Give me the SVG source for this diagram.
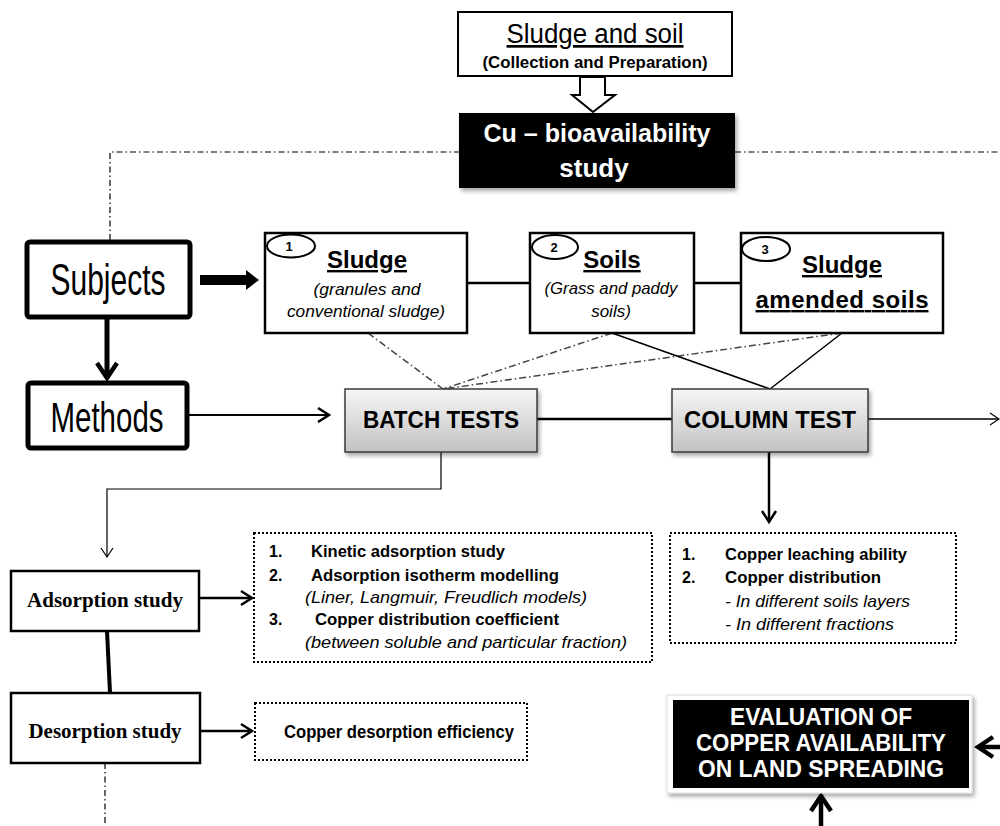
<svg xmlns="http://www.w3.org/2000/svg" width="1000" height="826" viewBox="0 0 1000 826">
<style>
.box{fill:#fff;stroke:#000;stroke-width:2.5}
.tbox{fill:#fff;stroke:#000;stroke-width:5}
.dot{fill:#fff;stroke:#000;stroke-width:2;stroke-dasharray:2 2}
.gbox{fill:url(#g);stroke:#3a3a3a;stroke-width:1.5}
.s{font-family:"Liberation Sans",Arial,sans-serif}
.n{font-family:"Liberation Sans Narrow","Liberation Sans",Arial,sans-serif}
.r{font-family:"Liberation Serif","Times New Roman",serif}
.b{font-weight:bold}
.i{font-style:italic}
.m{text-anchor:middle}
.u{text-decoration:underline}
.w{fill:#fff}
.ln{fill:none;stroke:#000}
.dd{fill:none;stroke:#444;stroke-width:1.5;stroke-dasharray:7 3 1.5 3}
</style>
<defs>
<linearGradient id="g" x1="0" y1="0" x2="0" y2="1">
<stop offset="0" stop-color="#f6f6f6"/>
<stop offset="1" stop-color="#c2c2c2"/>
</linearGradient>
<filter id="sh" x="-10%" y="-10%" width="125%" height="130%">
<feDropShadow dx="2" dy="3" stdDeviation="2" flood-color="#000" flood-opacity="0.35"/>
</filter>
<marker id="mA" markerUnits="userSpaceOnUse" viewBox="-20 -14 24 28" refX="0" refY="0" markerWidth="24" markerHeight="28" orient="auto">
<path d="M-15,-10 L0,0 L-15,10" fill="none" stroke="#000" stroke-width="4.5"/>
</marker>
<marker id="mB" markerUnits="userSpaceOnUse" viewBox="-16 -10 20 20" refX="0" refY="0" markerWidth="20" markerHeight="20" orient="auto">
<path d="M-11,-7 L0,0 L-11,7" fill="none" stroke="#000" stroke-width="2.5"/>
</marker>
<marker id="mC" markerUnits="userSpaceOnUse" viewBox="-14 -9 16 18" refX="0" refY="0" markerWidth="16" markerHeight="18" orient="auto">
<path d="M-9,-6 L0,0 L-9,6" fill="none" stroke="#000" stroke-width="1.2"/>
</marker>
</defs>
<rect width="1000" height="826" fill="#fff"/>

<g id="connectors">
<path class="ln" d="M110,240 V152 H459 M735,152 H1000 M105,763 V826" stroke-width="1.2" stroke-dasharray="6 3 1.5 3"/>
<polygon points="580,77 605,77 605,95 615,95 593,112 572,95 580,95" fill="#fff" stroke="#000" stroke-width="2"/>
<polygon points="200,275 246,275 246,270 259,280 246,290 246,285 200,285" fill="#000"/>
<path class="ln" d="M107,318 V378" stroke-width="5" marker-end="url(#mA)"/>
<path class="ln" d="M467,283 H530 M694,283 H741" stroke-width="2.5"/>
<path class="ln" d="M187,415 H329" stroke-width="2" marker-end="url(#mB)"/>
<path class="dd" d="M368,333 L443,389 M612,333 L443,389 M842,333 L443,389"/>
<path class="ln" d="M612,333 L770,389 L842,333" stroke="#222" stroke-width="1.5"/>
<path class="ln" d="M537,419 H672" stroke-width="2.5"/>
<path class="ln" d="M868,419 H999" stroke-width="1.3" marker-end="url(#mC)"/>
<path class="ln" d="M441,452 V489 H107 V557" stroke-width="1.2" marker-end="url(#mC)"/>
<path class="ln" d="M769,452 V522" stroke-width="2.5" marker-end="url(#mB)"/>
<path class="ln" d="M199,598 H252" stroke-width="2.5" marker-end="url(#mB)"/>
<path class="ln" d="M200,731 H252" stroke-width="2.5" marker-end="url(#mB)"/>
<path class="ln" d="M107,631 L110,693" stroke-width="4"/>
<path class="ln" d="M1000,747 H978" stroke-width="4.5" marker-end="url(#mA)"/>
<path class="ln" d="M821,826 V796" stroke-width="4.5" marker-end="url(#mA)"/>
</g>

<g id="sludge-soil">
<rect x="458" y="12" width="274" height="64" fill="#fff" stroke="#000" stroke-width="2"/>
<text class="s m u" x="595" y="43" font-size="27" textLength="177" lengthAdjust="spacingAndGlyphs">Sludge and soil</text>
<text class="s b m" x="595" y="68" font-size="16" textLength="225" lengthAdjust="spacingAndGlyphs">(Collection and Preparation)</text>
</g>

<g id="cu-study">
<rect x="459" y="113" width="276" height="75" fill="#000" filter="url(#sh)"/>
<text class="s b m w" x="597" y="142" font-size="26" textLength="227" lengthAdjust="spacingAndGlyphs">Cu – bioavailability</text>
<text class="s b m w" x="594" y="177" font-size="26">study</text>
</g>

<g id="subjects">
<rect class="tbox" x="27" y="242" width="163" height="75" rx="3"/>
<text class="n m" x="108" y="295" font-size="44" textLength="115" lengthAdjust="spacingAndGlyphs">Subjects</text>
</g>

<g id="methods">
<rect class="tbox" x="28" y="383" width="159" height="65" rx="3"/>
<text class="n m" x="107" y="432" font-size="42" textLength="113" lengthAdjust="spacingAndGlyphs">Methods</text>
</g>

<g id="sludge">
<rect class="box" x="265" y="233" width="202" height="100"/>
<ellipse cx="291" cy="246" rx="24" ry="11.5" fill="#fff" stroke="#000" stroke-width="2"/>
<text class="s b m" x="289" y="251" font-size="13">1</text>
<text class="s b m u" x="367" y="268" font-size="24">Sludge</text>
<text class="s i m" x="367" y="295" font-size="17" textLength="107" lengthAdjust="spacingAndGlyphs">(granules and</text>
<text class="s i m" x="366" y="317" font-size="17" textLength="158" lengthAdjust="spacingAndGlyphs">conventional sludge)</text>
</g>

<g id="soils">
<rect class="box" x="530" y="233" width="164" height="100"/>
<ellipse cx="555" cy="247" rx="23" ry="12" fill="#fff" stroke="#000" stroke-width="2"/>
<text class="s b m" x="554" y="252" font-size="13">2</text>
<text class="s b m u" x="612" y="268" font-size="24">Soils</text>
<text class="s i m" x="611" y="294" font-size="17" textLength="133" lengthAdjust="spacingAndGlyphs">(Grass and paddy</text>
<text class="s i m" x="611" y="317" font-size="17">soils)</text>
</g>

<g id="amended">
<rect class="box" x="741" y="233" width="202" height="100"/>
<ellipse cx="766" cy="249" rx="24" ry="12" fill="#fff" stroke="#000" stroke-width="2"/>
<text class="s b m" x="765" y="254" font-size="13">3</text>
<text class="s b m u" x="842" y="273" font-size="24">Sludge</text>
<text class="s b m u" x="842" y="308" font-size="24" textLength="173">amended soils</text>
</g>

<g id="batch">
<rect class="gbox" x="345" y="389" width="192" height="63" filter="url(#sh)"/>
<text class="s b m" x="441" y="428" font-size="24" textLength="156" lengthAdjust="spacingAndGlyphs">BATCH TESTS</text>
</g>

<g id="column">
<rect class="gbox" x="672" y="389" width="196" height="63" filter="url(#sh)"/>
<text class="s b m" x="770" y="428" font-size="24" textLength="172" lengthAdjust="spacingAndGlyphs">COLUMN TEST</text>
</g>

<g id="adsorption">
<rect class="box" x="11" y="571" width="188" height="60"/>
<text class="r b m" x="105" y="607" font-size="20" textLength="156" lengthAdjust="spacingAndGlyphs">Adsorption study</text>
</g>

<g id="adsorption-results">
<rect class="dot" x="254" y="533" width="398" height="129"/>
<text class="s b" x="269" y="557" font-size="16">1.</text>
<text class="s b" x="311" y="557" font-size="17" textLength="194" lengthAdjust="spacingAndGlyphs">Kinetic adsorption study</text>
<text class="s b" x="269" y="581" font-size="16">2.</text>
<text class="s b" x="311" y="581" font-size="17" textLength="248" lengthAdjust="spacingAndGlyphs">Adsorption isotherm modelling</text>
<text class="s i" x="305" y="603" font-size="17" textLength="282" lengthAdjust="spacingAndGlyphs">(Liner, Langmuir, Freudlich models)</text>
<text class="s b" x="269" y="625" font-size="16">3.</text>
<text class="s b" x="315" y="625" font-size="17" textLength="244" lengthAdjust="spacingAndGlyphs">Copper distribution coefficient</text>
<text class="s i" x="305" y="648" font-size="17" textLength="322" lengthAdjust="spacingAndGlyphs">(between soluble and particular fraction)</text>
</g>

<g id="column-results">
<rect class="dot" x="670" y="533" width="286" height="110"/>
<text class="s b" x="682" y="560" font-size="16">1.</text>
<text class="s b" x="725" y="560" font-size="17" textLength="182" lengthAdjust="spacingAndGlyphs">Copper leaching ability</text>
<text class="s b" x="682" y="583" font-size="16">2.</text>
<text class="s b" x="725" y="583" font-size="17" textLength="156" lengthAdjust="spacingAndGlyphs">Copper distribution</text>
<text class="s i" x="725" y="607" font-size="17" textLength="185" lengthAdjust="spacingAndGlyphs">- In different soils layers</text>
<text class="s i" x="725" y="630" font-size="17" textLength="169" lengthAdjust="spacingAndGlyphs">- In different fractions</text>
</g>

<g id="desorption">
<rect class="box" x="11" y="693" width="189" height="70"/>
<text class="r b m" x="105" y="738" font-size="20" textLength="153" lengthAdjust="spacingAndGlyphs">Desorption study</text>
</g>

<g id="desorption-results">
<rect class="dot" x="255" y="703" width="272" height="57"/>
<text class="s b m" x="399" y="738" font-size="18" textLength="230" lengthAdjust="spacingAndGlyphs">Copper desorption efficiency</text>
</g>

<g id="evaluation">
<rect x="667" y="695" width="305" height="98" fill="#fff" stroke="#ddd" stroke-width="1" filter="url(#sh)"/>
<rect x="673" y="700" width="296" height="88" fill="#000"/>
<text class="s b m w" x="821" y="725" font-size="23" textLength="182" lengthAdjust="spacingAndGlyphs">EVALUATION OF</text>
<text class="s b m w" x="821" y="751" font-size="23" textLength="250" lengthAdjust="spacingAndGlyphs">COPPER AVAILABILITY</text>
<text class="s b m w" x="821" y="777" font-size="23" textLength="246" lengthAdjust="spacingAndGlyphs">ON LAND SPREADING</text>
</g>
</svg>
